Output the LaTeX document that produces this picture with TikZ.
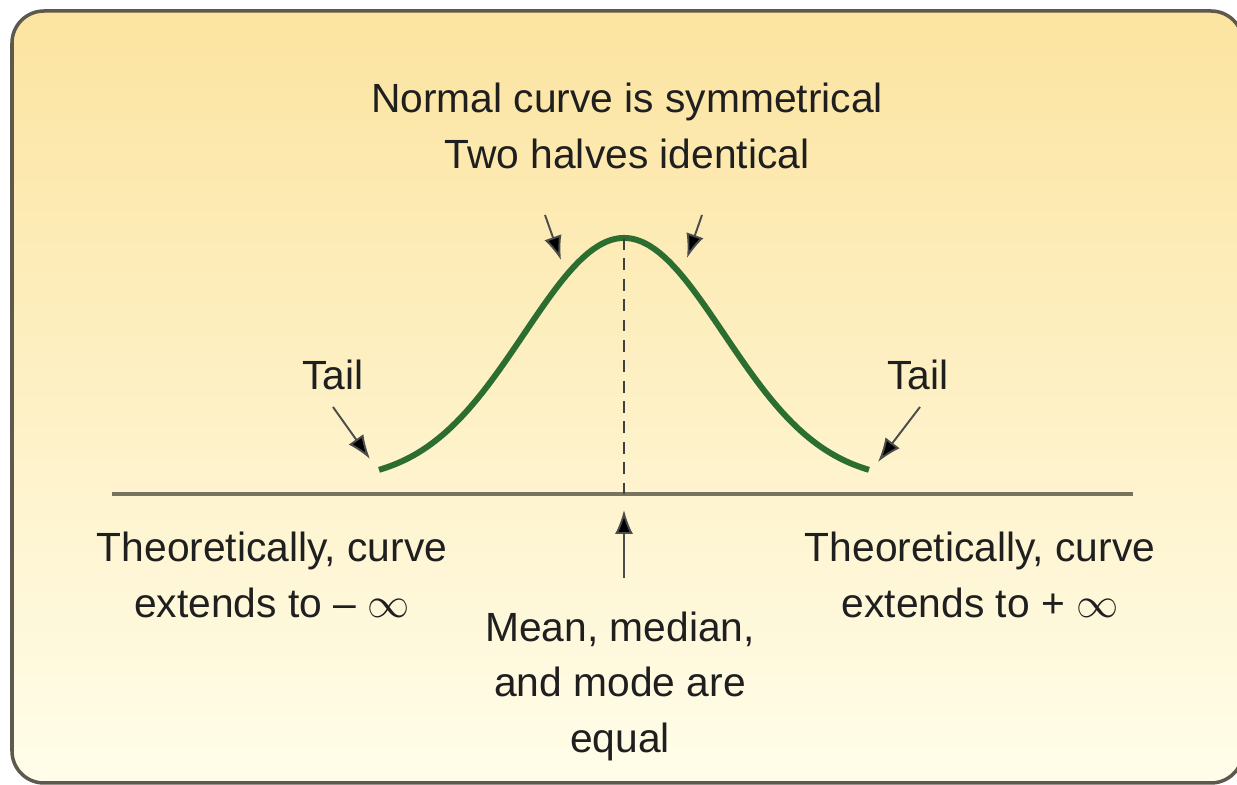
\documentclass[tikz,border=0pt]{standalone}
\usepackage{fontspec}
\setmainfont{Liberation Sans}
\usepackage{xcolor}
\usepackage{tikz}
\usetikzlibrary{arrows.meta, positioning}

\definecolor{panelTop}{HTML}{FCE4A0}
\definecolor{panelBot}{HTML}{FFFDEA}
\definecolor{frameGray}{HTML}{5E594E}
\definecolor{curveGreen}{HTML}{2C6E30}
\definecolor{axisGray}{HTML}{77735F}

\begin{document}
\begin{tikzpicture}[
    lbl/.style={align=center, inner sep=0pt, text=black!88, font=\fontsize{11.6}{15.8}\selectfont},
    arrow/.style={-{Latex[length=2.4mm, width=1.8mm, fill=black]}, line width=0.55pt, draw=black!70},
    curve/.style={draw=curveGreen, line width=1.7pt},
    axis/.style={draw=axisGray, line width=1pt}
]
\useasboundingbox (0,0) rectangle (12.37,7.85);
\clip (0,0) rectangle (12.37,7.85);
% panel
\draw[draw=frameGray, line width=1pt, rounded corners=0.32cm, top color=panelTop, bottom color=panelBot]
    (0.12,0.02) rectangle (12.43,7.74);

% axis and normal curve
\coordinate (axisL) at (1.12,2.91);
\coordinate (axisR) at (11.33,2.91);
\coordinate (peak) at (6.24,5.47);
\coordinate (base) at (6.24,2.91);
\draw[axis] (axisL) -- (axisR);
\draw[curve] plot[domain=-2.45:2.45, samples=90, smooth] ({6.24+\x},{3.03+2.44*exp(-\x*\x/2)});
\draw[dashed, dash pattern=on 3.4pt off 2.4pt, line width=0.5pt, draw=black!75] (peak) -- (base);

% points the arrows touch
\coordinate (halfL) at (5.61,5.25);
\coordinate (halfR) at (6.87,5.27);
\coordinate (tailLend) at (3.70,3.26);
\coordinate (tailRend) at (8.78,3.23);
\coordinate (meanTip) at (6.24,2.75);

% labels
\node[lbl] (sym) at (6.27,6.59) {Normal curve is symmetrical\\Two halves identical};
\node[lbl] (tailL) at (3.33,4.10) {Tail};
\node[lbl] (tailR) at (9.18,4.10) {Tail};
\node[lbl] (theoL) at (2.72,2.10) {Theoretically, curve\\extends to – $\infty$};
\node[lbl] (theoR) at (9.80,2.10) {Theoretically, curve\\extends to + $\infty$};
\node[lbl] (mean) at (6.20,0.99) {Mean, median,\\and mode are\\equal};

% arrows
\coordinate (symL) at (5.45,5.70);
\coordinate (symR) at (7.02,5.70);
\coordinate (tailLstart) at (3.33,3.78);
\coordinate (tailRstart) at (9.20,3.78);
\coordinate (meanStart) at (6.24,2.07);
\draw[arrow] (symL) -- (halfL);
\draw[arrow] (symR) -- (halfR);
\draw[arrow] (tailLstart) -- (tailLend);
\draw[arrow] (tailRstart) -- (tailRend);
\draw[arrow] (meanStart) -- (meanTip);
\end{tikzpicture}
\end{document}
